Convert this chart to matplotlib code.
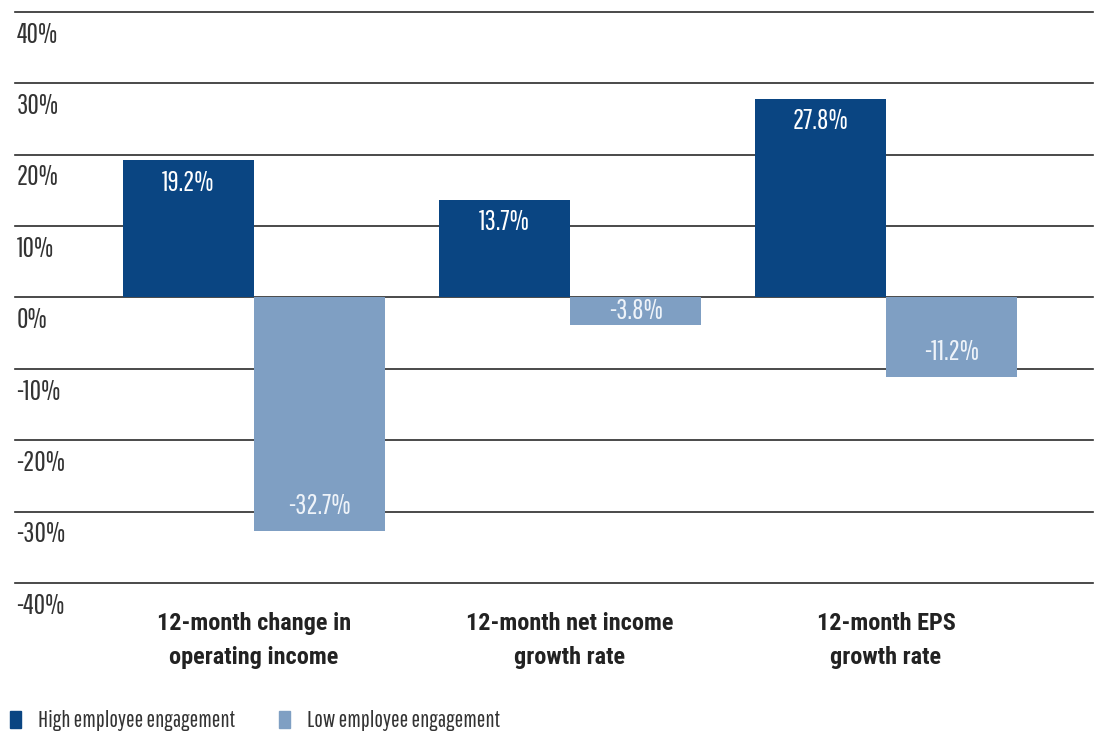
import matplotlib
matplotlib.use("Agg")
import matplotlib.pyplot as plt
from matplotlib.patches import Patch
import numpy as np

reg = ['Pathway Gothic One', 'Archivo Narrow', 'DejaVu Sans']
bold = ['Roboto Condensed', 'Archivo Narrow', 'DejaVu Sans']
plt.rcParams['font.family'] = reg

categories = ["12-month change in\noperating income",
              "12-month net income\ngrowth rate",
              "12-month EPS\ngrowth rate"]
high = [19.2, 13.7, 27.8]
low = [-32.7, -3.8, -11.2]
series_names = ["High employee engagement", "Low employee engagement"]
ticks = [40, 30, 20, 10, 0, -10, -20, -30, -40]

c_high = "#0a4582"
c_low = "#7f9fc3"
w = 0.415

fig = plt.figure(figsize=(11.03, 7.37), dpi=100)
ax = fig.add_axes([0.0136, 0.209, 0.9774, 0.7747])
x = np.arange(len(categories))

for t in ticks:
    ax.axhline(t, color="#2b2b2b", lw=1.2, zorder=1, clip_on=False)
    ax.annotate(f"{t}%", xy=(0, t), xycoords=("axes fraction", "data"),
                xytext=(1, -7), textcoords="offset points",
                ha="left", va="top", fontsize=20, color="#333333")

ax.bar(x - w / 2, high, w, color=c_high, zorder=2)
ax.bar(x + w / 2, low, w, color=c_low, zorder=2)

for i in range(len(x)):
    ax.annotate(f"{high[i]}%", xy=(x[i] - w / 2, high[i]), xytext=(0, -16),
                textcoords="offset points", ha="center", va="center",
                fontsize=20, color="white", zorder=3)
    v = low[i]
    yl = min(v + 3.5, v / 2)
    ax.text(x[i] + w / 2, yl, f"{v}%", ha="center", va="center",
            fontsize=20, color="#eef3f9", zorder=3)

for i, c in enumerate(categories):
    ax.annotate(c, xy=(x[i], -40), xytext=(0, -21), textcoords="offset points",
                ha="center", va="top", fontsize=17.5, fontweight="bold",
                family=bold, color="#222222", linespacing=1.6)

ax.set_xlim(-0.756, 2.655)
ax.set_ylim(-40, 40)
ax.axis("off")

handles = [Patch(color=c_high), Patch(color=c_low)]
fig.legend(handles, series_names, loc="lower left", bbox_to_anchor=(-0.01, -0.02),
           ncol=2, frameon=False, fontsize=16.5, handlelength=0.5, handleheight=0.75,
           handletextpad=0.75, columnspacing=1.9, labelcolor="#333333")

fig.savefig("out.png", dpi=100)
